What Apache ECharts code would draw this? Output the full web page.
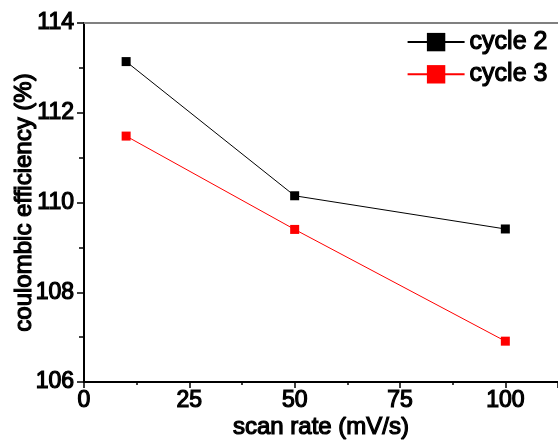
<!DOCTYPE html>
<html>
<head>
<meta charset="utf-8">
<script src="https://cdn.jsdelivr.net/npm/echarts@6/dist/echarts.min.js"></script>
<style>
  html, body { margin: 0; padding: 0; background: #fff; }
  #chart { width: 558px; height: 445px; }
</style>
</head>
<body>
<div id="chart"></div>
<script>
// Scan rates (mV/s) and coulombic efficiency (%) per cycle
const scanRates = [10, 50, 100];
const cycle2 = [113.14, 110.15, 109.41];
const cycle3 = [111.48, 109.40, 106.91];
const seriesNames = ['cycle 2', 'cycle 3'];

const FONT = '"Liberation Sans", Arial, sans-serif';
// slightly heavier glyphs: outline each text in its own colour
const heavy = { fontFamily: FONT, color: '#000', textBorderColor: '#000', textBorderWidth: 1.2 };

const chart = echarts.init(document.getElementById('chart'), null, { renderer: 'canvas' });

const pairs = (ys) => scanRates.map((x, i) => [x, ys[i]]);

chart.setOption({
  animation: false,
  backgroundColor: '#ffffff',
  grid: { left: 84, top: 23, right: 0, bottom: 63, containLabel: false, outerBoundsMode: 'none' },
  legend: {
    right: 5,
    top: 24,
    orient: 'vertical',
    itemWidth: 57,
    itemHeight: 23,
    itemGap: 6,
    textStyle: Object.assign({ fontSize: 25 }, heavy),
    data: seriesNames
  },
  xAxis: [{
    type: 'value',
    min: 0,
    max: 112.5,
    interval: 25,
    name: 'scan rate (mV/s)',
    nameLocation: 'middle',
    nameGap: 33,
    nameMoveOverlap: false,
    nameTextStyle: Object.assign({ fontSize: 24 }, heavy),
    axisLine: { show: true, onZero: false, lineStyle: { color: '#000', width: 2 } },
    axisTick: { show: true, inside: false, length: 6, lineStyle: { color: '#000', width: 1.5 } },
    minorTick: { show: true, splitNumber: 2, length: 3, lineStyle: { color: '#000', width: 1.5 } },
    axisLabel: Object.assign({ fontSize: 23, margin: 7, showMaxLabel: false }, heavy),
    splitLine: { show: false }
  }, {
    type: 'value',
    position: 'top',
    min: 0,
    max: 112.5,
    axisLine: { show: true, onZero: false, lineStyle: { color: '#808080', width: 2 } },
    axisTick: { show: false },
    axisLabel: { show: false },
    splitLine: { show: false }
  }],
  yAxis: {
    type: 'value',
    min: 106,
    max: 114,
    interval: 2,
    name: 'coulombic efficiency (%)',
    nameLocation: 'middle',
    nameGap: 48,
    nameMoveOverlap: false,
    nameTextStyle: Object.assign({ fontSize: 24 }, heavy),
    axisLine: { show: true, onZero: false, lineStyle: { color: '#000', width: 2 } },
    axisTick: { show: true, inside: false, length: 7, lineStyle: { color: '#000', width: 1.5 } },
    minorTick: { show: true, splitNumber: 2, length: 5, lineStyle: { color: '#000', width: 1.5 } },
    axisLabel: Object.assign({ fontSize: 23, margin: 10 }, heavy),
    splitLine: { show: false }
  },
  series: [{
    name: seriesNames[0],
    type: 'line',
    data: pairs(cycle2),
    symbol: 'rect',
    symbolSize: 9,
    lineStyle: { color: '#000', width: 1 },
    itemStyle: { color: '#000' }
  }, {
    name: seriesNames[1],
    type: 'line',
    data: pairs(cycle3),
    symbol: 'rect',
    symbolSize: 9,
    lineStyle: { color: '#ff0000', width: 1 },
    itemStyle: { color: '#ff0000' }
  }]
});
</script>
</body>
</html>
